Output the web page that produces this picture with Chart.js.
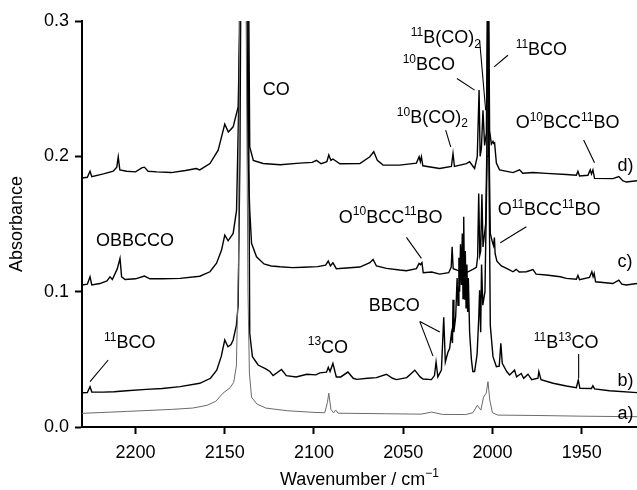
<!DOCTYPE html>
<html>
<head>
<meta charset="utf-8">
<script src="https://cdn.jsdelivr.net/npm/chart.js@4/dist/chart.umd.min.js"></script>
<style>
    html, body { margin: 0; padding: 0; background: #fff; }
    canvas { display: block; }
</style>
</head>
<body>
<canvas id="chart" width="637" height="490"></canvas>
<script>
// Trazas IR: número de onda (cm-1) y absorbancia
const waveA = [2230, 2205, 2180, 2168, 2160, 2155, 2151, 2147, 2145, 2143.5, 2142.3, 2141.3, 2139.5, 2138, 2137, 2136.2, 2135, 2132, 2127, 2115, 2100, 2094, 2092.5, 2091.7, 2090.5, 2089, 2087.8, 2086.5, 2060, 2040, 2034, 2028, 2015, 2011, 2008.5, 2006.5, 2005, 2003.5, 2002.5, 2001.5, 2000, 1997, 1975, 1950, 1919];
const absA = [0.0101, 0.0115, 0.013, 0.014, 0.016, 0.019, 0.025, 0.029, 0.033, 0.045, 0.12, 0.4, 0.42, 0.3, 0.1, 0.04, 0.022, 0.017, 0.014, 0.012, 0.0108, 0.0105, 0.018, 0.025, 0.013, 0.0105, 0.0125, 0.0102, 0.0098, 0.0095, 0.011, 0.0093, 0.0092, 0.0105, 0.016, 0.0125, 0.022, 0.025, 0.0335, 0.02, 0.0105, 0.0088, 0.0085, 0.008, 0.0076];

const waveB = [2230, 2227, 2225.5, 2224.5, 2218, 2212, 2205, 2194, 2185, 2175, 2164, 2158, 2154.5, 2152, 2150, 2148.2, 2146.5, 2145.3, 2143.5, 2142.5, 2141.5, 2140.5, 2139, 2137.5, 2136.5, 2136, 2134.5, 2131.3, 2127, 2124.7, 2122.9, 2118.2, 2115.5, 2110, 2104, 2099, 2096.7, 2093, 2092, 2091, 2089.4, 2087.5, 2085, 2081, 2078, 2076, 2070, 2065, 2059.4, 2056, 2053.8, 2048, 2043.5, 2040.5, 2038.9, 2034.2, 2032.5, 2031.6, 2030.6, 2028.6, 2027.3, 2026.4, 2025, 2024, 2023, 2022.4, 2022.1, 2021.6, 2020.6, 2019.8, 2019.3, 2018.8, 2018.4, 2017.9, 2017.4, 2016.9, 2016.5, 2016.1, 2015.6, 2015.2, 2014.8, 2014.3, 2013.9, 2013.5, 2012.8, 2011.8, 2011, 2010, 2009, 2008.6, 2007.7, 2007.2, 2006.6, 2006.1, 2005.4, 2004.2, 2003, 2002.5, 2002, 2001.2, 1999.7, 1997.8, 1996.2, 1995.3, 1994.5, 1992, 1990.4, 1987.6, 1986.5, 1983.9, 1982.5, 1980.1, 1978, 1974.5, 1974, 1972.8, 1966, 1958.6, 1953, 1951.9, 1951, 1944.5, 1943.7, 1942.8, 1934.4, 1919];
const absB = [0.0253, 0.0255, 0.0298, 0.0258, 0.0258, 0.026, 0.0268, 0.0278, 0.0285, 0.0298, 0.0323, 0.036, 0.042, 0.052, 0.0643, 0.0593, 0.061, 0.0643, 0.075, 0.09, 0.2, 0.45, 0.5, 0.42, 0.2, 0.069, 0.052, 0.0458, 0.043, 0.041, 0.038, 0.0425, 0.038, 0.037, 0.039, 0.0385, 0.04, 0.0405, 0.044, 0.041, 0.047, 0.037, 0.037, 0.0406, 0.036, 0.0352, 0.036, 0.0365, 0.039, 0.036, 0.035, 0.0365, 0.042, 0.037, 0.0355, 0.035, 0.038, 0.048, 0.037, 0.042, 0.081, 0.048, 0.055, 0.058, 0.0692, 0.062, 0.094, 0.07, 0.0816, 0.11, 0.09, 0.125, 0.1, 0.135, 0.105, 0.143, 0.095, 0.1553, 0.094, 0.13, 0.088, 0.12, 0.085, 0.11, 0.07, 0.05, 0.041, 0.041, 0.05, 0.054, 0.08, 0.101, 0.07, 0.12, 0.09, 0.1, 0.2, 0.35, 0.2, 0.075, 0.052, 0.0445, 0.045, 0.0618, 0.047, 0.041, 0.0384, 0.042, 0.037, 0.0395, 0.036, 0.039, 0.035, 0.036, 0.041, 0.035, 0.0323, 0.0303, 0.029, 0.0347, 0.0286, 0.0285, 0.0305, 0.0282, 0.0268, 0.0254];

const waveC = [2230, 2227, 2225.5, 2224.5, 2220, 2216, 2214.3, 2213, 2210.2, 2208.7, 2207.8, 2205.9, 2200, 2195, 2192, 2185, 2175, 2164, 2158.3, 2154.6, 2151.8, 2150, 2148.1, 2145.3, 2143.4, 2142, 2141, 2139.5, 2138, 2137, 2136, 2135, 2132.2, 2128, 2124, 2119, 2112, 2106, 2098, 2093.5, 2092, 2090.8, 2089.4, 2087.5, 2081.8, 2074.3, 2068.7, 2066.9, 2065, 2059.4, 2052, 2048.2, 2042.6, 2041.1, 2040.3, 2039.5, 2038.8, 2034, 2029.6, 2024.5, 2023.1, 2022.6, 2022, 2018, 2014, 2011, 2009, 2008.3, 2007.7, 2007.1, 2006.6, 2005.9, 2005.3, 2003.8, 2003.2, 2002.5, 2001.8, 2001.2, 2000.1, 1999.4, 1998.9, 1998.5, 1997.5, 1995, 1991, 1988.5, 1986.7, 1985, 1981, 1977.3, 1975.5, 1969.8, 1962, 1958.6, 1953, 1952.1, 1951.2, 1945.6, 1944.3, 1943.6, 1943, 1942.2, 1932.5, 1929.2, 1927.5, 1925, 1919];
const absC = [0.1049, 0.1055, 0.111, 0.105, 0.106, 0.108, 0.111, 0.109, 0.117, 0.1246, 0.111, 0.109, 0.1095, 0.1115, 0.1095, 0.1095, 0.1098, 0.1114, 0.1147, 0.121, 0.1307, 0.1418, 0.1376, 0.143, 0.16, 0.25, 0.45, 0.5, 0.4, 0.2, 0.16, 0.1357, 0.1258, 0.1205, 0.119, 0.1184, 0.1178, 0.118, 0.1185, 0.1196, 0.1226, 0.119, 0.1214, 0.117, 0.1175, 0.1182, 0.1214, 0.1238, 0.119, 0.1172, 0.116, 0.1155, 0.117, 0.1209, 0.12, 0.1215, 0.114, 0.1145, 0.113, 0.114, 0.1182, 0.1332, 0.117, 0.115, 0.1145, 0.1165, 0.118, 0.1258, 0.1726, 0.127, 0.13, 0.172, 0.133, 0.15, 0.2, 0.35, 0.2, 0.143, 0.137, 0.134, 0.14, 0.128, 0.1225, 0.119, 0.1165, 0.1147, 0.1165, 0.1145, 0.1147, 0.1163, 0.113, 0.1123, 0.111, 0.1098, 0.1092, 0.112, 0.1088, 0.1105, 0.1147, 0.111, 0.1135, 0.1073, 0.106, 0.1085, 0.1055, 0.1049, 0.106];

const waveD = [2230, 2227, 2225.5, 2224.5, 2218, 2212.5, 2210.5, 2209.7, 2208.8, 2205, 2200, 2196.5, 2195, 2193, 2188, 2180, 2172, 2166, 2164, 2158.3, 2153.7, 2150, 2148, 2145.3, 2142.5, 2141.5, 2140.5, 2139, 2137.5, 2136.5, 2136, 2134, 2128.5, 2119, 2108, 2101, 2098.6, 2096, 2092.8, 2091.7, 2090.5, 2089.4, 2085.5, 2074.3, 2068.7, 2066.5, 2064.5, 2061.3, 2052, 2042.6, 2041.1, 2040.4, 2039.8, 2039, 2029.6, 2023, 2022.1, 2021.3, 2014.6, 2012.8, 2010, 2008.5, 2007.5, 2006.9, 2006.2, 2005.3, 2004.4, 2003.4, 2002.9, 2002.5, 2002, 2001.6, 2000.6, 1999.7, 1999.3, 1998.8, 1997.8, 1996, 1988.5, 1984.8, 1983, 1977.3, 1969.8, 1958.6, 1953, 1952.1, 1951.2, 1946.5, 1945.2, 1944.5, 1943.7, 1942.8, 1932.5, 1929.2, 1927, 1925, 1919];
const absD = [0.184, 0.1845, 0.189, 0.185, 0.187, 0.189, 0.192, 0.1996, 0.19, 0.189, 0.1885, 0.1915, 0.192, 0.189, 0.1885, 0.188, 0.1895, 0.191, 0.19, 0.1947, 0.2046, 0.2238, 0.218, 0.2218, 0.2366, 0.3, 0.5, 0.5, 0.45, 0.3, 0.207, 0.197, 0.1947, 0.1938, 0.195, 0.1955, 0.197, 0.1945, 0.196, 0.201, 0.197, 0.198, 0.1945, 0.1947, 0.1997, 0.2034, 0.197, 0.1935, 0.1935, 0.195, 0.1997, 0.196, 0.1997, 0.193, 0.191, 0.1925, 0.2021, 0.1925, 0.1946, 0.196, 0.191, 0.2, 0.249, 0.2, 0.2058, 0.234, 0.208, 0.217, 0.3, 0.6, 0.3, 0.219, 0.209, 0.211, 0.2095, 0.21, 0.195, 0.19, 0.188, 0.19, 0.1875, 0.188, 0.1874, 0.1866, 0.186, 0.189, 0.1855, 0.186, 0.19, 0.187, 0.19, 0.1837, 0.1835, 0.185, 0.182, 0.181, 0.182];

// Marcas del eje
const xTicks = [2200, 2150, 2100, 2050, 2000, 1950];
const yTicks = [0.0, 0.1, 0.2, 0.3];

const FAMILY = "'Liberation Sans', Arial, Helvetica, sans-serif";

// Etiquetas de las bandas (posición en unidades de datos)
const etiquetas = [
    { x: 2128.7, y: 0.2452, parts: [['CO']] },
    { x: 2045.8, y: 0.2836, parts: [['11', 'sup'], ['B(CO)'], ['2', 'sub']] },
    { x: 2050.3, y: 0.2637, parts: [['10', 'sup'], ['BCO']] },
    { x: 1987.0, y: 0.2747, parts: [['11', 'sup'], ['BCO']] },
    { x: 2053.6, y: 0.2245, parts: [['10', 'sup'], ['B(CO)'], ['2', 'sub']] },
    { x: 1987.0, y: 0.2208, parts: [['O'], ['10', 'sup'], ['BCC'], ['11', 'sup'], ['BO']] },
    { x: 2222.2, y: 0.1337, parts: [['OBBCCO']] },
    { x: 2086.1, y: 0.1507, parts: [['O'], ['10', 'sup'], ['BCC'], ['11', 'sup'], ['BO']] },
    { x: 1997.1, y: 0.1566, parts: [['O'], ['11', 'sup'], ['BCC'], ['11', 'sup'], ['BO']] },
    { x: 2069.3, y: 0.0857, parts: [['BBCO']] },
    { x: 2217.7, y: 0.0583, parts: [['11', 'sup'], ['BCO']] },
    { x: 2103.5, y: 0.0547, parts: [['13', 'sup'], ['CO']] },
    { x: 1976.9, y: 0.0583, parts: [['11', 'sup'], ['B'], ['13', 'sup'], ['CO']] },
    { x: 1929.9, y: 0.189, parts: [['d)']] },
    { x: 1929.9, y: 0.1182, parts: [['c)']] },
    { x: 1929.9, y: 0.0303, parts: [['b)']] },
    { x: 1929.9, y: 0.0059, parts: [['a)']] }
];

// Líneas guía [x1, y1, x2, y2]
const guias = [
    [2007.2, 0.2858, 2003.8, 0.2341],
    [2019.9, 0.2575, 2010.0, 0.2489],
    [1991.3, 0.2747, 1999.1, 0.2661],
    [2026.2, 0.2193, 2023.4, 0.2070],
    [1948.9, 0.2120, 1942.8, 0.1952],
    [2048.2, 0.1401, 2039.8, 0.1246],
    [1981.0, 0.1479, 1995.6, 0.1361],
    [2040.7, 0.0779, 2033.3, 0.0524],
    [2040.7, 0.0779, 2029.5, 0.0702],
    [1951.7, 0.0539, 1951.7, 0.0362],
    [2215.3, 0.0495, 2225.5, 0.0335]
];

function puntos(xs, ys) {
    return xs.map((x, i) => ({ x: x, y: ys[i] }));
}

// Dibuja texto con superíndices / subíndices
function textoRico(ctx, x, y, parts, size) {
    let cx = x;
    parts.forEach(([t, k]) => {
        const s = k ? Math.round(size * 0.68) : size;
        ctx.font = s + 'px ' + FAMILY;
        const dy = k === 'sup' ? -size * 0.42 : (k === 'sub' ? size * 0.24 : 0);
        ctx.fillText(t, cx, y + dy);
        cx += ctx.measureText(t).width;
    });
    return cx - x;
}

function anchoRico(ctx, parts, size) {
    let w = 0;
    parts.forEach(([t, k]) => {
        const s = k ? Math.round(size * 0.68) : size;
        ctx.font = s + 'px ' + FAMILY;
        w += ctx.measureText(t).width;
    });
    return w;
}

const anotaciones = {
    id: 'anotaciones',
    afterDraw(chart) {
        const ctx = chart.ctx;
        const xs = chart.scales.x;
        const ys = chart.scales.y;
        ctx.save();
        ctx.strokeStyle = '#000';
        ctx.lineWidth = 1.1;
        guias.forEach(g => {
            ctx.beginPath();
            ctx.moveTo(xs.getPixelForValue(g[0]), ys.getPixelForValue(g[1]));
            ctx.lineTo(xs.getPixelForValue(g[2]), ys.getPixelForValue(g[3]));
            ctx.stroke();
        });
        ctx.fillStyle = '#000';
        ctx.textBaseline = 'alphabetic';
        ctx.textAlign = 'left';
        etiquetas.forEach(e => {
            textoRico(ctx, xs.getPixelForValue(e.x), ys.getPixelForValue(e.y), e.parts, 18);
        });
        // Título del eje x
        const titulo = [['Wavenumber / cm'], ['\u22121', 'sup']];
        const ancho = anchoRico(ctx, titulo, 18);
        const cx = (chart.chartArea.left + chart.chartArea.right) / 2;
        textoRico(ctx, cx - ancho / 2, 485, titulo, 18);
        ctx.restore();
    }
};

Chart.defaults.font.family = FAMILY;
Chart.defaults.font.size = 18;
Chart.defaults.color = '#000';

const trazo = (xs, ys, color, ancho) => ({
    data: puntos(xs, ys),
    showLine: true,
    borderColor: color,
    borderWidth: ancho,
    pointRadius: 0,
    tension: 0
});

new Chart(document.getElementById('chart'), {
    type: 'scatter',
    data: {
        datasets: [
            trazo(waveA, absA, '#6a6a6a', 1),
            trazo(waveB, absB, '#000', 1.4),
            trazo(waveC, absC, '#000', 1.4),
            trazo(waveD, absD, '#000', 1.4)
        ]
    },
    options: {
        responsive: false,
        animation: false,
        devicePixelRatio: 1,
        layout: { padding: { top: 21, right: 0, left: 0, bottom: 0 } },
        plugins: {
            legend: { display: false },
            tooltip: { enabled: false }
        },
        scales: {
            x: {
                type: 'linear',
                reverse: true,
                min: 1919,
                max: 2230,
                afterFit: s => { s.height = 63; },
                afterBuildTicks: s => { s.ticks = xTicks.map(v => ({ value: v })); },
                grid: { drawOnChartArea: false, drawTicks: true, tickLength: 7, tickWidth: 2, tickColor: '#000' },
                border: { display: true, color: '#000', width: 2 },
                ticks: { padding: 8, font: { size: 18 }, callback: v => String(v) }
            },
            y: {
                min: 0,
                max: 0.3,
                afterFit: s => { s.width = 82; },
                afterBuildTicks: s => { s.ticks = yTicks.map(v => ({ value: v })); },
                grid: { drawOnChartArea: false, drawTicks: true, tickLength: 7, tickWidth: 2, tickColor: '#000' },
                border: { display: true, color: '#000', width: 2 },
                ticks: { padding: 6, font: { size: 18 }, callback: v => v.toFixed(1) },
                title: { display: true, text: 'Absorbance', font: { size: 18 }, padding: { top: 6, bottom: 0 } }
            }
        }
    },
    plugins: [anotaciones]
});
</script>
</body>
</html>
